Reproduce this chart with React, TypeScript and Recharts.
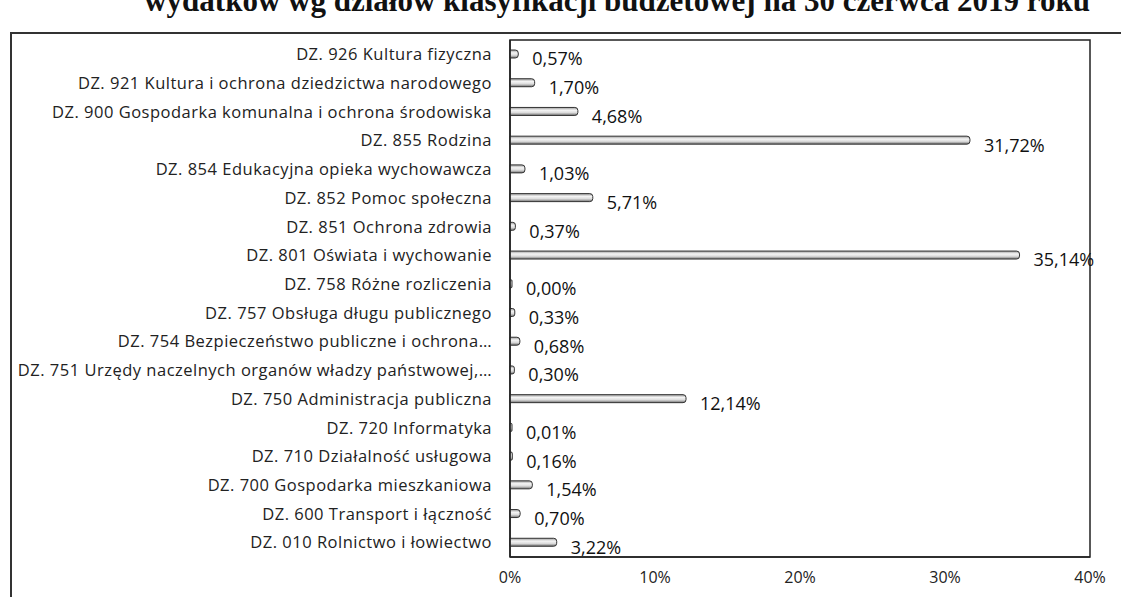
import React from "react";
import {
  BarChart,
  Bar,
  XAxis,
  YAxis,
  LabelList,
  ReferenceArea,
} from "recharts";

const categories = [
  "DZ. 926 Kultura fizyczna",
  "DZ. 921 Kultura i ochrona dziedzictwa narodowego",
  "DZ. 900 Gospodarka komunalna i ochrona środowiska",
  "DZ. 855 Rodzina",
  "DZ. 854 Edukacyjna opieka wychowawcza",
  "DZ. 852 Pomoc społeczna",
  "DZ. 851 Ochrona zdrowia",
  "DZ. 801 Oświata i wychowanie",
  "DZ. 758 Różne rozliczenia",
  "DZ. 757 Obsługa długu publicznego",
  "DZ. 754 Bezpieczeństwo publiczne i ochrona…",
  "DZ. 751 Urzędy naczelnych organów władzy państwowej,…",
  "DZ. 750 Administracja publiczna",
  "DZ. 720 Informatyka",
  "DZ. 710 Działalność usługowa",
  "DZ. 700 Gospodarka mieszkaniowa",
  "DZ. 600 Transport i łączność",
  "DZ. 010 Rolnictwo i łowiectwo",
];

const shares = [
  0.57, 1.7, 4.68, 31.72, 1.03, 5.71, 0.37, 35.14, 0.0, 0.33, 0.68, 0.3, 12.14,
  0.01, 0.16, 1.54, 0.7, 3.22,
];

const xTicks = [0, 10, 20, 30, 40];

const title =
  "wydatków wg działów klasyfikacji budżetowej na 30 czerwca 2019 roku";

const data = categories.map((name, i) => ({ name, value: shares[i] }));

const FONT = "'Open Sans', 'DejaVu Sans', sans-serif";

const pct = (v: number) => v.toFixed(2).replace(".", ",") + "%";

export default function App() {
  return (
    <div
      style={{
        position: "absolute",
        left: 0,
        top: 0,
        width: 1121,
        height: 597,
        overflow: "hidden",
        background: "#fff",
      }}
    >
      {/* heading of the scanned page, cut at the top edge */}
      <div
        style={{
          position: "absolute",
          right: 31,
          top: -13,
          fontFamily: "'Liberation Serif', 'Times New Roman', serif",
          fontWeight: "bold",
          fontSize: 31,
          lineHeight: "28px",
          whiteSpace: "nowrap",
          color: "#111",
        }}
      >
        {title}
      </div>

      {/* outer frame */}
      <div
        style={{
          position: "absolute",
          left: 10,
          top: 32,
          width: 1111,
          height: 580,
          borderTop: "2px solid #333",
          borderLeft: "2px solid #333",
        }}
      />

      <div style={{ position: "absolute", left: 0, top: 0 }}>
        <BarChart
          width={1121}
          height={597}
          data={data}
          layout="vertical"
          margin={{ top: 40, right: 31, bottom: 0, left: 0 }}
        >
          <defs>
            <linearGradient id="tube" x1="0" y1="0" x2="0" y2="1">
              <stop offset="0%" stopColor="#9a9a9a" />
              <stop offset="35%" stopColor="#f4f4f4" />
              <stop offset="65%" stopColor="#dcdcdc" />
              <stop offset="100%" stopColor="#6e6e6e" />
            </linearGradient>
          </defs>
          <XAxis
            type="number"
            domain={[0, 40]}
            ticks={xTicks}
            tickFormatter={(v: number) => v + "%"}
            axisLine={{ stroke: "#222", strokeWidth: 1.5 }}
            tickLine={false}
            height={40}
            tick={{ fontFamily: FONT, fontSize: 16, fill: "#222", dy: 7 }}
          />
          <YAxis
            type="category"
            dataKey="name"
            width={510}
            axisLine={{ stroke: "#222", strokeWidth: 1.5 }}
            tickLine={false}
            tickMargin={12}
            interval={0}
            tick={{
              fontFamily: FONT,
              fontSize: 16.5,
              letterSpacing: 0.5,
              fill: "#222",
            }}
          />
          <ReferenceArea
            x1={0}
            x2={40}
            fill="none"
            stroke="#222"
            strokeWidth={1.5}
            ifOverflow="visible"
          />
          <Bar
            dataKey="value"
            fill="url(#tube)"
            stroke="#333"
            strokeWidth={1}
            barSize={8}
            minPointSize={2}
            radius={[0, 3, 3, 0]}
            isAnimationActive={false}
          >
            <LabelList
              dataKey="value"
              position="right"
              offset={14}
              formatter={(v: number) => pct(v)}
              style={{ fontFamily: FONT, fontSize: 18, fill: "#111" }}
              dy={5}
            />
          </Bar>
        </BarChart>
      </div>
    </div>
  );
}
